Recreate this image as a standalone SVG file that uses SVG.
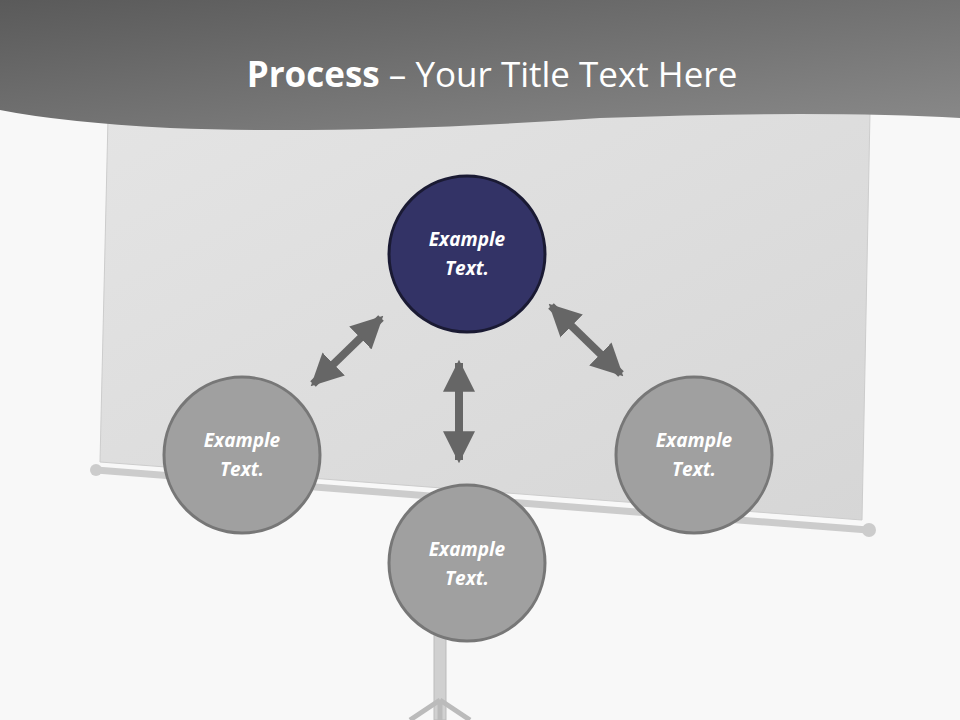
<svg xmlns="http://www.w3.org/2000/svg" width="960" height="720" viewBox="0 0 960 720">
<defs>
<linearGradient id="hdr" x1="0" y1="0" x2="1" y2="1"><stop offset="0" stop-color="#5a5a5a"/><stop offset="1" stop-color="#8a8a8a"/></linearGradient>
<linearGradient id="scr" x1="0" y1="0" x2="1" y2="1"><stop offset="0" stop-color="#e4e4e4"/><stop offset="1" stop-color="#d6d6d6"/></linearGradient>
<marker id="ah" viewBox="0 0 10 10" refX="9" refY="5" markerWidth="4" markerHeight="4" orient="auto-start-reverse" markerUnits="strokeWidth"><path d="M0,0 L10,5 L0,10 z" fill="#666"/></marker>
<style>
.c{stroke-width:3}
.t{font-family:"Open Sans","Liberation Sans",sans-serif;font-weight:bold;font-style:italic;font-size:19px;fill:#fff;text-anchor:middle}
.a{stroke:#666;stroke-width:8;fill:none;marker-start:url(#ah);marker-end:url(#ah)}
</style>
</defs>
<rect width="960" height="720" fill="#f8f8f8"/>
<g id="stand">
<rect x="434" y="530" width="12" height="190" fill="#d0d0d0" stroke="#bbb"/>
<path d="M440,700 L410,720 M440,700 L470,720 M440,700 L440,720" stroke="#bbb" stroke-width="5"/>
</g>
<polygon points="108,118 870,112 862,520 100,462" fill="url(#scr)" stroke="#ccc"/>
<line x1="96" y1="470" x2="868" y2="530" stroke="#ccc" stroke-width="7" stroke-linecap="round"/>
<circle cx="96" cy="470" r="6" fill="#ccc"/><circle cx="869" cy="530" r="7" fill="#ccc"/>
<path d="M0,0 H960 V118 Q820,110 600,118 Q350,135 170,128 Q60,122 0,110 Z" fill="url(#hdr)"/>
<text x="492" y="87" text-anchor="middle" font-family="Open Sans, Liberation Sans, sans-serif" font-size="35" fill="#fff"><tspan font-weight="bold">Process</tspan> – Your Title Text Here</text>
<g id="connectors">
<line class="a" x1="313" y1="384" x2="381" y2="318"/>
<line class="a" x1="459" y1="363" x2="459" y2="460"/>
<line class="a" x1="551" y1="306" x2="621" y2="374"/>
</g>
<g id="n1"><circle class="c" cx="467" cy="254" r="78" fill="#333366" stroke="#1a1a33"/><text class="t" x="467" y="246">Example</text><text class="t" x="467" y="275">Text.</text></g>
<g id="n2"><circle class="c" cx="242" cy="455" r="78" fill="#a0a0a0" stroke="#777"/><text class="t" x="242" y="447">Example</text><text class="t" x="242" y="476">Text.</text></g>
<g id="n3"><circle class="c" cx="694" cy="455" r="78" fill="#a0a0a0" stroke="#777"/><text class="t" x="694" y="447">Example</text><text class="t" x="694" y="476">Text.</text></g>
<g id="n4"><circle class="c" cx="467" cy="563" r="78" fill="#a0a0a0" stroke="#777"/><text class="t" x="467" y="556">Example</text><text class="t" x="467" y="585">Text.</text></g>
</svg>
